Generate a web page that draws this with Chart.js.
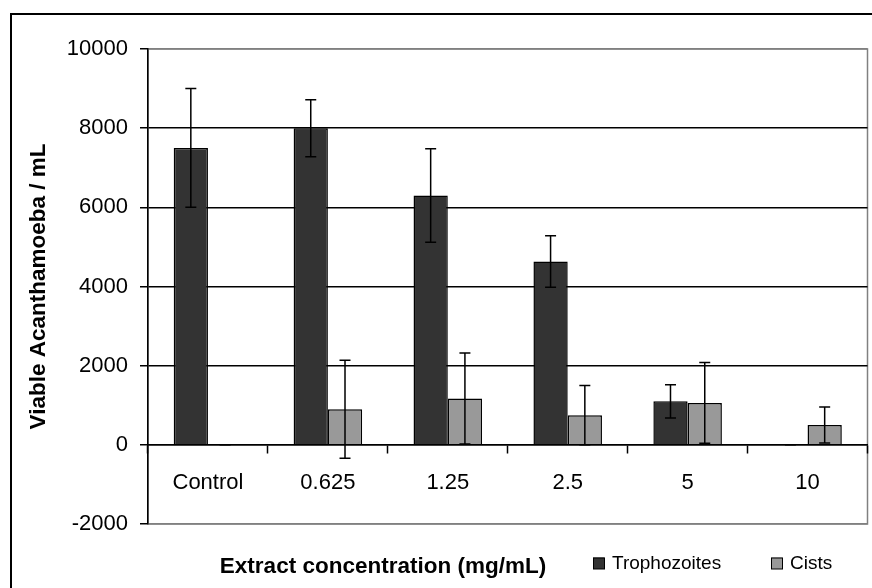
<!DOCTYPE html>
<html>
<head>
<meta charset="utf-8">
<script src="https://cdn.jsdelivr.net/npm/chart.js@4/dist/chart.umd.min.js"></script>
<style>
  html, body { margin: 0; padding: 0; background: #fff; }
  #wrap { width: 872px; height: 588px; }
</style>
</head>
<body>
<div id="wrap"><canvas id="chart" width="872" height="588"></canvas></div>
<script>
// values
const concentrations = ["Control", "0.625", "1.25", "2.5", "5", "10"];
const trophozoites = [7500, 8000, 6300, 4630, 1100, 0];
const trophozoitesErr = [1500, 720, 1180, 650, 420, 0];
const cists = [0, 900, 1170, 750, 1060, 500];
const cistsErr = [0, 1240, 1150, 750, 1020, 455];

const yTitle = "Viable Acanthamoeba / mL";
const xTitle = "Extract concentration (mg/mL)";
const FONT = "'Liberation Sans', Arial, sans-serif";

const errors = [trophozoitesErr, cistsErr];

// frame of the whole figure + grey box round plot area
const framePlugin = {
    id: "frame",
    beforeDraw(chart) {
        const c = chart.ctx;
        const a = chart.chartArea;
        c.save();
        c.strokeStyle = "#000";
        c.lineWidth = 2;
        c.strokeRect(11, 14, chart.width + 20, chart.height + 20);
        c.strokeStyle = "#808080";
        c.lineWidth = 1.5;
        c.strokeRect(a.left, a.top, a.right - a.left, a.bottom - a.top);
        c.restore();
    }
};

const errorBarPlugin = {
    id: "errorBars",
    afterDatasetsDraw(chart) {
        const c = chart.ctx;
        const y = chart.scales.y;
        c.save();
        c.strokeStyle = "#000";
        c.lineWidth = 1.5;
        chart.data.datasets.forEach((ds, di) => {
            const meta = chart.getDatasetMeta(di);
            meta.data.forEach((bar, i) => {
                const v = ds.data[i];
                const e = errors[di][i];
                const top = y.getPixelForValue(v + e);
                const bot = y.getPixelForValue(v - e);
                const x = bar.x;
                c.beginPath();
                c.moveTo(x, top); c.lineTo(x, bot);
                c.moveTo(x - 5.5, top); c.lineTo(x + 5.5, top);
                c.moveTo(x - 5.5, bot); c.lineTo(x + 5.5, bot);
                c.stroke();
            });
        });
        c.restore();
    }
};

// x title and legend share one line under the plot
const bottomLinePlugin = {
    id: "bottomLine",
    afterDraw(chart) {
        const c = chart.ctx;
        c.save();
        c.fillStyle = "#000";
        c.textBaseline = "middle";
        c.textAlign = "center";
        c.font = "bold 22.5px " + FONT;
        c.fillText(xTitle, 383, 567);

        c.font = "19px " + FONT;
        c.textAlign = "left";
        const startX = [593, 771];
        chart.data.datasets.forEach((ds, i) => {
            const x = startX[i];
            c.fillStyle = ds.backgroundColor;
            c.fillRect(x, 557.5, 11.5, 11.5);
            c.strokeStyle = "#000";
            c.lineWidth = 1;
            c.strokeRect(x + 0.5, 558, 11, 11);
            c.fillStyle = "#000";
            c.fillText(ds.label, x + 19, 564);
        });
        c.restore();
    }
};

new Chart(document.getElementById("chart"), {
    type: "bar",
    data: {
        labels: concentrations,
        datasets: [
            {
                label: "Trophozoites",
                data: trophozoites,
                backgroundColor: "#333333",
                borderColor: "#000",
                borderWidth: 1.5
            },
            {
                label: "Cists",
                data: cists,
                backgroundColor: "#999999",
                borderColor: "#000",
                borderWidth: 1.5
            }
        ]
    },
    options: {
        responsive: false,
        animation: false,
        maintainAspectRatio: false,
        categoryPercentage: 2 / 3.5,
        barPercentage: 1.0,
        layout: { padding: { left: 0, top: 49, right: 4.5, bottom: 64 } },
        plugins: {
            legend: { display: false },
            tooltip: { enabled: false }
        },
        scales: {
            x: {
                position: { y: 0 },
                grid: {
                    offset: true,
                    drawOnChartArea: false,
                    drawTicks: true,
                    tickLength: 8,
                    tickColor: "#000",
                    tickWidth: 1.5
                },
                border: { display: true, color: "#000", width: 1.5 },
                ticks: {
                    color: "#000",
                    font: { family: FONT, size: 22 },
                    padding: 17,
                    maxRotation: 0
                }
            },
            y: {
                min: -2000,
                max: 10000,
                ticks: {
                    stepSize: 2000,
                    color: "#000",
                    font: { family: FONT, size: 22 },
                    padding: 12,
                    callback: v => String(v)
                },
                grid: {
                    color: ctx => (ctx.tick && (ctx.tick.value === 10000 || ctx.tick.value === -2000)) ? "#808080" : "#000",
                    lineWidth: 1.5,
                    tickColor: "#000",
                    tickLength: 8
                },
                border: { display: true, color: "#000", width: 1.5 },
                title: {
                    display: true,
                    text: yTitle,
                    color: "#000",
                    font: { family: FONT, size: 22.5, weight: "bold" },
                    padding: { top: 25, bottom: 0 }
                },
                afterFit(scale) { scale.width = 148; }
            }
        }
    },
    plugins: [framePlugin, errorBarPlugin, bottomLinePlugin]
});
</script>
</body>
</html>
